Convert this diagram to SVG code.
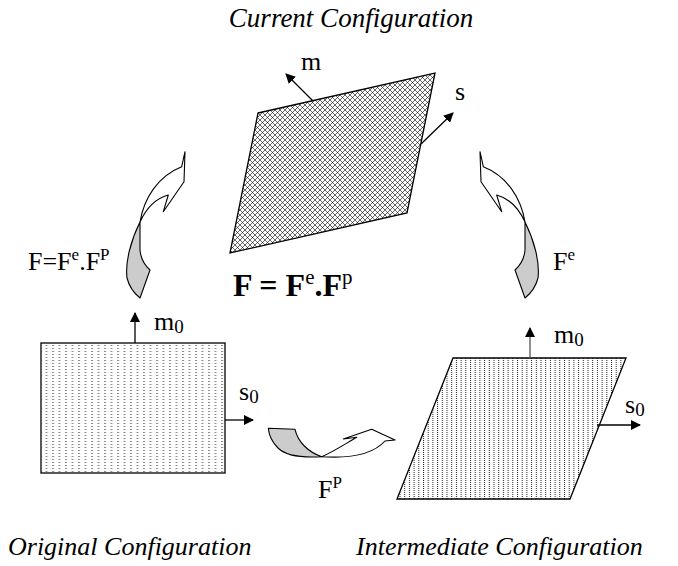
<svg xmlns="http://www.w3.org/2000/svg" width="678" height="566" viewBox="0 0 678 566">
<defs>
<pattern id="hatch" patternUnits="userSpaceOnUse" width="5" height="5">
<path d="M0,0 L5,5 M5,0 L0,5" stroke="#000" stroke-width="0.6"/>
</pattern>
<pattern id="dash" patternUnits="userSpaceOnUse" width="6.5" height="3">
<rect x="0" y="0" width="2" height="1" fill="#8a8a8a"/>
</pattern>
<pattern id="dots" patternUnits="userSpaceOnUse" width="4.7" height="2">
<rect x="0" y="0" width="1" height="1" fill="#222"/>
</pattern>
<marker id="ah" viewBox="0 0 10 10" refX="9" refY="5" markerWidth="10" markerHeight="10" markerUnits="userSpaceOnUse" orient="auto">
<path d="M0,0 L10,5 L0,10 Z" fill="#000"/>
</marker>
</defs>
<style>
text{font-family:"Liberation Serif","Times New Roman",serif;fill:#000}
.title{font-size:26px;font-style:italic}
.lbl{font-size:26px}
.sub{font-size:19px}
.sup{font-size:17px}
.big{font-size:32px;font-weight:bold}
.bigsup{font-size:21px;font-weight:normal}
.vec{stroke:#000;stroke-width:1.3;fill:none;marker-end:url(#ah)}
.flow{stroke:#000;stroke-width:1.1;stroke-linejoin:round}
</style>

<g id="current">
<polygon points="258,113 435,73 407,213 230,253" fill="url(#hatch)" stroke="#000" stroke-width="1.3"/>
<text class="title" x="351" y="27" text-anchor="middle" style="font-size:27px">Current Configuration</text>
</g>

<g id="original">
<rect x="41" y="343" width="184" height="130" fill="url(#dash)" stroke="#000" stroke-width="1.3"/>
<text class="title" x="8" y="555">Original Configuration</text>
</g>

<g id="intermediate">
<polygon points="453,358 626,358 570,499 397,499" fill="url(#dots)" stroke="#000" stroke-width="1.3"/>
<text class="title" x="356" y="555">Intermediate Configuration</text>
</g>

<g id="vectors">
<line class="vec" x1="313" y1="101" x2="286" y2="74"/>
<text class="lbl" x="301" y="70">m</text>
<line class="vec" x1="421" y1="144" x2="453" y2="113"/>
<text class="lbl" x="455" y="100">s</text>
<line class="vec" x1="135" y1="343" x2="135" y2="313"/>
<text class="lbl" x="154" y="330">m<tspan class="sub" dy="3">0</tspan></text>
<line class="vec" x1="225" y1="420" x2="253" y2="420"/>
<text class="lbl" x="239" y="400">s<tspan class="sub" dy="3">0</tspan></text>
<line class="vec" x1="530" y1="358" x2="530" y2="328" style="stroke:#555"/>
<text class="lbl" x="554" y="343">m<tspan class="sub" dy="3">0</tspan></text>
<line class="vec" x1="597" y1="425" x2="640" y2="425"/>
<text class="lbl" x="625" y="413">s<tspan class="sub" dy="3">0</tspan></text>
</g>

<g id="connectors">
<g id="arrow-left">
<path class="flow" fill="#fff" d="M140,222 C144,198 158,176 181.7,166.7 L185,151.7 L184,181.7 L163.3,211.7 L168.3,195 Q150,200 140,222 Z"/>
<path class="flow" fill="#cccccc" d="M140,222 C131,240 125,262 127,278 Q130,290 140,298 L150,270 Q141,262 140,250 Z"/>
</g>
<g id="arrow-right" transform="translate(665,0) scale(-1,1)">
<path class="flow" fill="#fff" d="M140,222 C144,198 158,176 181.7,166.7 L185,151.7 L184,181.7 L163.3,211.7 L168.3,195 Q150,200 140,222 Z"/>
<path class="flow" fill="#cccccc" d="M140,222 C131,240 125,262 127,278 Q130,290 140,298 L150,270 Q141,262 140,250 Z"/>
</g>
<g id="arrow-bottom">
<path class="flow" fill="#cccccc" d="M268.3,428.3 L295,429.3 C298,442 308,452 321.7,456.7 C300,458 285,455 278,448 C272,442 269,436 268.3,428.3 Z"/>
<path class="flow" fill="#fff" d="M321.7,456.7 C333,452 345,444 356.7,437.3 L343.3,439 L371.7,429.3 L395,440 L385,441 C375,452 355,459 321.7,456.7 Z"/>
</g>
<text class="lbl" x="28" y="270">F=F<tspan class="sup" dy="-10">e</tspan><tspan dy="10">.F</tspan><tspan class="sup" dy="-10">P</tspan></text>
<text class="lbl" x="553" y="270">F<tspan class="sup" dy="-10">e</tspan></text>
<text class="lbl" x="318" y="498">F<tspan class="sup" dy="-10">P</tspan></text>
<text class="big" x="233" y="296">F = F<tspan class="bigsup" dy="-12">e</tspan><tspan dy="12">.F</tspan><tspan class="bigsup" dy="-12">p</tspan></text>
</g>
</svg>
